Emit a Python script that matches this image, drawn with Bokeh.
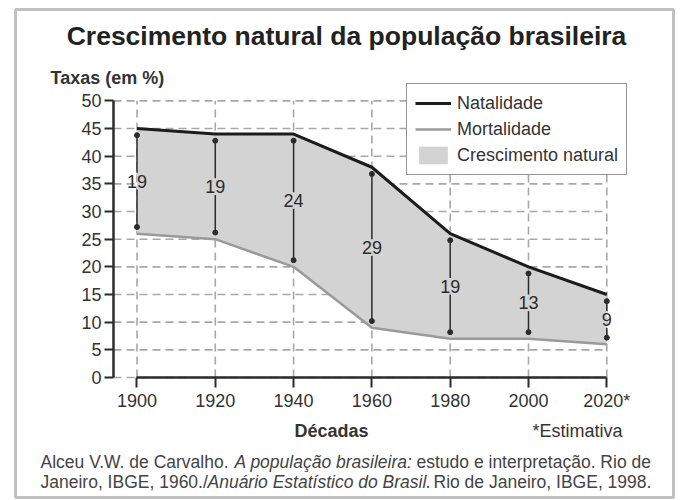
from bokeh.plotting import figure
from bokeh.models import (Range1d, Label, LabelSet, ColumnDataSource, Legend,
                          LegendItem, BoxAnnotation, FixedTicker)
from bokeh.core.properties import value
from bokeh.embed import file_html
from bokeh.resources import INLINE

# ---- data ----
decadas = [1900, 1920, 1940, 1960, 1980, 2000, 2020]
natalidade = [45, 44, 44, 38, 26, 20, 15]
mortalidade = [26, 25, 20, 9, 7, 7, 6]
crescimento = [19, 19, 24, 29, 19, 13, 9]
rotulos_x = ["1900", "1920", "1940", "1960", "1980", "2000", "2020*"]
ticks_y = [0, 5, 10, 15, 20, 25, 30, 35, 40, 45, 50]

FONT = "Liberation Sans"
DARK = "#2b2b2b"
FILL = "#d3d3d3"
W, H = 683, 500

# pixel <-> data mapping (frame covers the whole canvas)
X_AXIS_AT = 1894          # where the value axis stands
OX, OY = 113, 377         # canvas pixel of (X_AXIS_AT, 0)
SX, SY = 3.915, 5.533     # pixels per year / per percentage point


def dx(px):
    return X_AXIS_AT + (px - OX) / SX


def dy(py):
    return (OY - py) / SY


p = figure(width=W, height=H, output_backend="svg", toolbar_location=None,
           x_range=Range1d(dx(0), dx(W)), y_range=Range1d(dy(H), dy(0)),
           min_border=0)
p.title.visible = False
p.grid.visible = False
p.outline_line_color = None
p.background_fill_color = "white"
p.border_fill_color = "white"

# ---- dashed grid (drawn from tick arrays) ----
p.segment(x0=[X_AXIS_AT] * len(ticks_y), x1=[decadas[-1]] * len(ticks_y),
          y0=ticks_y, y1=ticks_y, line_color="#a8a8a8", line_width=1.6,
          line_dash="8 5")
p.segment(x0=decadas, x1=decadas, y0=[ticks_y[0]] * len(decadas),
          y1=[ticks_y[-1]] * len(decadas), line_color="#a8a8a8",
          line_width=1.6, line_dash="8 5")

# ---- area + lines ----
r_area = p.varea(x=decadas, y1=mortalidade, y2=natalidade, fill_color=FILL)
r_mort = p.line(decadas, mortalidade, line_color="#9a9a9a", line_width=2.5)
r_nat = p.line(decadas, natalidade, line_color="#1c1c1c", line_width=3)

# ---- measurement arrows (interrupted by their value) ----
inset = 1.2
half_gap = 1.5
tops = [n - inset for n in natalidade]
bots = [m + inset for m in mortalidade]
mid = [(n + m) / 2 for n, m in zip(natalidade, mortalidade)]
p.segment(x0=decadas, x1=decadas, y0=[m + half_gap for m in mid], y1=tops,
          line_color=DARK, line_width=1.5)
p.segment(x0=decadas, x1=decadas, y0=bots, y1=[m - half_gap for m in mid],
          line_color=DARK, line_width=1.5)
p.scatter(decadas + decadas, tops + bots, size=5, color=DARK)
src = ColumnDataSource(dict(x=decadas, y=mid, t=[str(c) for c in crescimento]))
p.add_layout(LabelSet(x="x", y="y", text="t", source=src, text_align="center",
                      text_baseline="middle", text_font=value(FONT),
                      text_font_size="18px", text_color=DARK))

# ---- axes (library axes, pinned at their data positions) ----
p.xaxis.ticker = FixedTicker(ticks=decadas)
p.xaxis.major_label_overrides = dict(zip(decadas, rotulos_x))
p.xaxis.bounds = (decadas[0], decadas[-1])
p.xaxis.fixed_location = 0
p.yaxis.ticker = FixedTicker(ticks=ticks_y)
p.yaxis.bounds = (ticks_y[0], ticks_y[-1])
p.yaxis.fixed_location = X_AXIS_AT
for ax in (p.xaxis, p.yaxis):
    ax.axis_line_color = DARK
    ax.axis_line_width = 2.5
    ax.major_tick_line_color = DARK
    ax.major_tick_line_width = 2
    ax.major_tick_in = 0
    ax.minor_tick_line_color = None
    ax.major_label_text_font = FONT
    ax.major_label_text_font_size = "18px"
    ax.major_label_text_color = "#333333"
p.xaxis.major_tick_out = 10
p.xaxis.major_label_standoff = 3
p.yaxis.major_tick_out = 9
p.yaxis.major_label_standoff = 3

# ---- legend ----
legend = Legend(items=[LegendItem(label="Natalidade", renderers=[r_nat]),
                       LegendItem(label="Mortalidade", renderers=[r_mort]),
                       LegendItem(label="Crescimento natural", renderers=[r_area])],
                location=(406, H - 175), margin=0, padding=8, spacing=4,
                glyph_width=36, glyph_height=22, label_standoff=6,
                label_text_font=FONT, label_text_font_size="18px",
                label_text_color="#333333", border_line_color=DARK,
                border_line_width=1.5, background_fill_alpha=1.0)
p.add_layout(legend, "center")


# ---- texts ----
def lab(px, py, text, size, style="normal", align="left", color="#333333"):
    p.add_layout(Label(x=dx(px), y=dy(py), text=text, text_font=FONT,
                       text_font_size=size, text_font_style=style,
                       text_align=align, text_baseline="middle",
                       text_color=color))


lab(346, 35, "Crescimento natural da população brasileira", "26.5px",
    "bold", "center", "#222222")
lab(50, 77, "Taxas (em %)", "18px", "bold")
lab(331, 430, "Décadas", "18px", "bold", "center")
lab(577, 430, "*Estimativa", "18px", "normal", "center")

CIT = "#444444"
lab(40, 461, "Alceu V.W. de Carvalho.", "17.5px", color=CIT)
lab(234, 461, "A população brasileira:", "17.5px", "italic", color=CIT)
lab(416, 461, "estudo e interpretação. Rio de", "17.5px", color=CIT)
lab(40, 481, "Janeiro, IBGE, 1960./", "17.5px", color=CIT)
lab(207, 481, "Anuário Estatístico do Brasil.", "17.5px", "italic", color=CIT)
lab(433, 481, "Rio de Janeiro, IBGE, 1998.", "17.5px", color=CIT)

# ---- outer frame ----
p.add_layout(BoxAnnotation(left=dx(15), right=dx(673), top=dy(9), bottom=dy(497),
                           fill_alpha=0, line_color="#333333", line_width=3))

open("out.html", "w").write(file_html(p, INLINE))
